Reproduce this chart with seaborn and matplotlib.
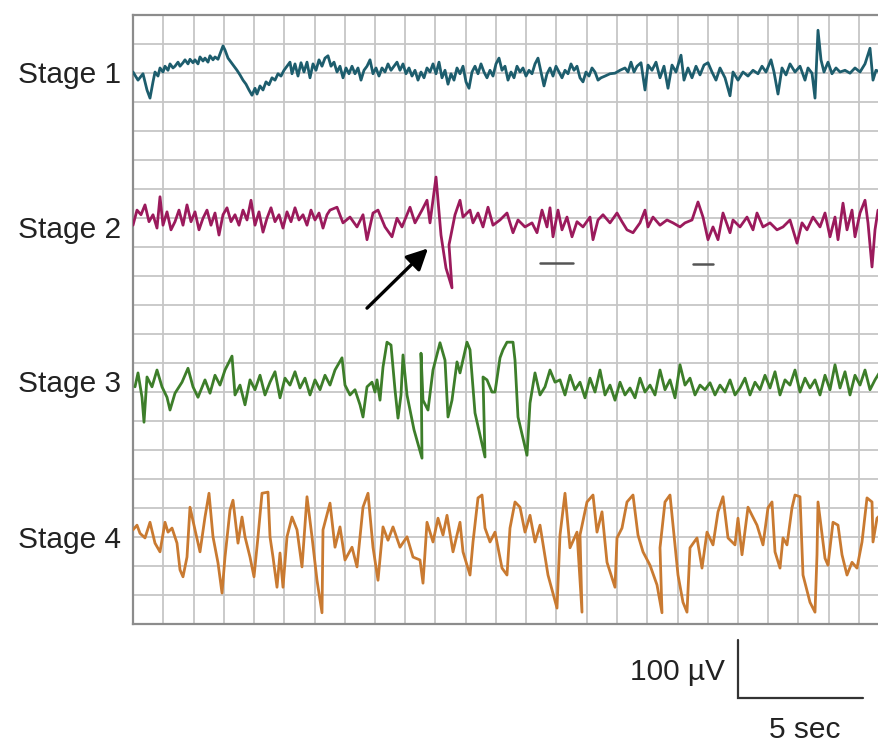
import numpy as np
import matplotlib
matplotlib.use("Agg")
import matplotlib.pyplot as plt
import seaborn as sns

# ---------------- data (time in s, amplitude in µV relative to trace baseline) -------------
stage_labels = ["Stage 1", "Stage 2", "Stage 3", "Stage 4"]

stage1_t = [0.00, 0.20, 0.40, 0.56, 0.68, 0.80, 0.88, 1.00, 1.08, 1.20, 1.28, 1.40, 1.48, 1.60, 1.68, 1.80,
            1.88, 2.00, 2.08, 2.20, 2.28, 2.40, 2.48, 2.60, 2.68, 2.80, 2.88, 3.00, 3.08, 3.20, 3.28, 3.40,
            3.48, 3.60, 3.68, 3.80, 3.92, 4.04, 4.16, 4.28, 4.40, 4.52, 4.64, 4.76, 4.88, 4.96, 5.08, 5.20,
            5.32, 5.44, 5.56, 5.68, 5.80, 5.92, 6.04, 6.16, 6.28, 6.36, 6.48, 6.60, 6.72, 6.84, 6.96, 7.08,
            7.20, 7.32, 7.44, 7.56, 7.68, 7.80, 7.92, 8.04, 8.16, 8.28, 8.40, 8.52, 8.64, 8.76, 8.88, 9.00,
            9.12, 9.24, 9.36, 9.48, 9.60, 9.72, 9.84, 9.96, 10.08, 10.20, 10.32, 10.44, 10.56, 10.68, 10.80,
            10.92, 11.04, 11.16, 11.28, 11.40, 11.52, 11.64, 11.76, 11.88, 12.00, 12.12, 12.24, 12.36, 12.48,
            12.60, 12.72, 12.84, 12.96, 13.08, 13.20, 13.32, 13.44, 13.56, 13.68, 13.80, 13.92, 14.04, 14.16,
            14.28, 14.40, 14.52, 14.64, 14.76, 14.88, 15.00, 15.12, 15.24, 15.36, 15.48, 15.60, 15.72, 15.84,
            15.96, 16.08, 16.20, 16.32, 16.44, 16.56, 16.68, 16.80, 16.92, 17.04, 17.16, 17.28, 17.40, 17.52,
            17.64, 17.76, 17.88, 18.00, 18.12, 18.24, 18.36, 18.48, 18.60, 18.72, 18.88, 19.08, 19.28, 19.48,
            19.68, 19.80, 19.92, 20.04, 20.16, 20.32, 20.48, 20.60, 20.76, 20.92, 21.08, 21.24, 21.40, 21.56,
            21.72, 21.92, 22.04, 22.20, 22.36, 22.52, 22.68, 22.84, 23.00, 23.16, 23.32, 23.48, 23.68, 23.88,
            24.00, 24.20, 24.40, 24.60, 24.80, 25.00, 25.16, 25.32, 25.52, 25.64, 25.80, 25.96, 26.12, 26.28,
            26.48, 26.68, 26.88, 27.00, 27.16, 27.28, 27.40, 27.52, 27.64, 27.80, 27.96, 28.12, 28.28, 28.48,
            28.68, 28.88, 29.08, 29.28, 29.48, 29.60, 29.72, 29.88]
stage1_uv = [0, -14, -3, -31, -45, -17, 0, -7, 7, 0, 10, 3, 14, 7, 10, 17,
             10, 16, 21, 14, 22, 16, 21, 14, 26, 19, 24, 17, 28, 21, 26, 22,
             31, 45, 38, 24, 17, 10, 3, -5, -14, -21, -31, -40, -28, -38, -24, -31,
             -17, -22, -10, -14, -3, -7, 3, 10, 17, -3, 14, -7, 16, 0, 17, -10,
             14, 3, 21, 10, 24, 28, 10, 17, 0, 10, -10, 7, -3, 10, -3, 7,
             -14, 3, 10, 21, -3, 7, -7, 7, 0, 14, 3, 10, 17, 3, 14,
             -3, 7, -7, 3, -14, 0, -10, 7, 0, 14, -3, 17, -10, 3,
             -21, -3, -14, 7, -3, 10, -17, -28, 0, 10, -3, 14, 0, -10,
             3, -7, 14, 24, 3, 10, -14, 0, -10, 10, 0, 7, -7, 3,
             -3, 14, 24, 0, -24, -3, 7, -7, 10, 0, -10, 3, -3, 14,
             3, 10, -10, -17, 0, -7, 7, 0, -14, -10, -7, -3, -2, 3,
             7, 0, 17, 0, 10, 16, -31, 12, 3, 17, -10, 10, -28, 12,
             0, 29, -14, 7, -10, 10, -5, 12, 16, 0, -14, 7, -10, -41,
             0, -14, 0, -7, 3, -3, 10, 0, 21, 0, -38, 7, -5, 14,
             0, 10, -14, 7, -2, -45, 72, 21, 0, 17, -3, 7, 0, 3,
             -2, 7, 0, 14, 41, -14, 3, 0]

stage2_t = [0.00, 0.16, 0.32, 0.48, 0.64, 0.80, 0.96, 1.08, 1.20, 1.36, 1.52, 1.68, 1.84, 2.00, 2.16, 2.32,
            2.48, 2.64, 2.80, 2.96, 3.12, 3.28, 3.44, 3.60, 3.76, 3.92, 4.08, 4.24, 4.40, 4.56, 4.72, 4.88,
            5.04, 5.20, 5.36, 5.52, 5.68, 5.84, 6.00, 6.16, 6.32, 6.48, 6.64, 6.80, 6.96, 7.12, 7.28, 7.44,
            7.60, 7.76, 7.88, 8.16, 8.40, 8.68, 8.96, 9.20, 9.36, 9.60, 9.80, 10.08, 10.36, 10.56, 10.76,
            11.08, 11.28, 11.56, 11.76, 11.88, 12.12, 12.32, 12.52, 12.76, 12.64, 12.88, 13.08, 13.20, 13.48,
            13.60, 13.80, 14.00, 14.20, 14.40, 14.68, 14.96, 15.20, 15.40, 15.68, 15.96, 16.16, 16.36, 16.56,
            16.68, 16.80, 17.00, 17.16, 17.36, 17.56, 17.76, 18.00, 18.28, 18.40, 18.60, 18.80, 19.08, 19.36,
            19.56, 19.76, 20.00, 20.28, 20.48, 20.60, 20.80, 21.08, 21.36, 21.60, 21.88, 22.08, 22.36, 22.60,
            22.80, 23.00, 23.20, 23.40, 23.60, 23.88, 24.00, 24.28, 24.56, 24.80, 24.96, 25.20, 25.48, 25.76,
            26.00, 26.28, 26.56, 26.76, 26.96, 27.20, 27.48, 27.68, 27.88, 28.08, 28.20, 28.40, 28.56, 28.76,
            28.88, 29.08, 29.28, 29.40, 29.56, 29.68, 29.80]
stage2_uv = [-9, 17, 9, 26, -3, 9, -14, 40, -9, 14, -17, -3, 17, -9, 26, -3,
             14, -17, 3, 17, -9, 12, -26, 9, 21, -3, 9, -9, 17, 0, 34, -9,
             14, -21, 3, 21, -3, 9, -14, 14, -3, 21, 0, 9, -9, 17, 0, 12,
             -14, 9, 17, 22, -5, 5, -12, 9, -34, 12, 17, -12, -29, 3, -12,
             22, -5, 17, 34, -5, 74, -26, -83, -117, -43, 9, 34, 5, 17,
             -5, 12, -12, 22, -9, 0, 12, -22, 0, -12, -5, -22, 17, -12,
             21, -29, 17, -17, 5, -29, -3, -12, 5, -34, 0, 9, -5, 12,
             -3, -17, -22, -5, 17, -12, 5, -9, 0, -5, -12, -5, 0, 31,
             5, -34, -12, -34, 12, -22, 0, -12, 5, -17, 12, -12, -5, -17,
             -12, 0, -40, -5, -17, 5, -12, 12, -29, 5, -34, 29, -17, 17,
             -29, 12, 34, -5, -81, -17, 17]

stage3_t = [0.08, 0.20, 0.36, 0.44, 0.56, 0.76, 0.96, 1.16, 1.36, 1.48, 1.68, 1.96, 2.20, 2.40, 2.60, 2.88,
            3.08, 3.28, 3.48, 3.68, 3.96, 4.08, 4.28, 4.48, 4.68, 4.88, 5.08, 5.28, 5.48, 5.68, 5.88, 6.08,
            6.28, 6.48, 6.68, 6.88, 7.08, 7.28, 7.48, 7.68, 7.88, 8.08, 8.36, 8.48, 8.68, 8.88, 9.08, 9.20,
            9.36, 9.56, 9.68, 9.76, 9.88, 10.00, 10.16, 10.32, 10.48, 10.60, 10.72, 10.80, 10.96, 11.24, 11.56,
            11.52, 11.60, 11.80, 12.00, 12.28, 12.48, 12.60, 12.76, 12.96, 13.08, 13.36, 13.48, 13.68, 14.08,
            14.00, 14.16, 14.36, 14.48, 14.68, 14.80, 14.96, 15.20, 15.28, 15.40, 15.76, 15.88, 16.08, 16.28,
            16.48, 16.68, 16.88, 17.08, 17.28, 17.48, 17.68, 17.88, 18.08, 18.28, 18.48, 18.68, 18.88, 19.08,
            19.28, 19.48, 19.68, 19.88, 20.08, 20.28, 20.48, 20.68, 20.88, 21.08, 21.28, 21.48, 21.68, 21.88,
            22.08, 22.28, 22.48, 22.68, 22.88, 23.08, 23.28, 23.48, 23.68, 23.88, 24.08, 24.28, 24.48, 24.68,
            24.88, 25.08, 25.28, 25.48, 25.68, 25.88, 26.08, 26.28, 26.48, 26.68, 26.88, 27.08, 27.28, 27.48,
            27.68, 27.88, 28.08, 28.28, 28.48, 28.68, 28.88, 29.08, 29.28, 29.48, 29.68, 29.88]
stage3_uv = [2, 26, -16, -59, 19, 2, 31, 2, -16, -38, -9, 10, 34, 2, -16, 14,
             -9, 22, 5, 31, 55, -12, 5, -29, 14, -3, 22, -12, 10, 28, -17, 17,
             5, 28, 0, 17, -12, 14, -3, 22, 5, 31, 52, 5, -12, -3, -29, -50,
             2, 10, -7, 14, -21, 36, 79, 74, -3, -52, -12, 57, -12, -72, -121,
             60, -21, -38, 31, 78, 48, -50, -21, 45, 26, 79, 66, -43, -119,
             19, 14, -7, -7, 52, 66, 79, 79, 48, -50, -116, -26, 26, -12,
             2, 31, 10, 14, -12, 22, -3, 10, -17, 17, -7, 31, -12, 5,
             -21, 10, -12, 0, -17, 17, -7, 5, -12, 31, -3, 14, -17, 40,
             5, 17, -12, 5, -3, 9, -12, 5, -7, 14, -12, 0, 17, -12,
             10, -3, 22, 0, 28, -12, 14, 5, 31, -7, 17, 0, 14, -12,
             22, -3, 40, 0, 28, -12, 22, 5, 31, -3, 14, 28]

stage4_t = [0.00, 0.16, 0.28, 0.48, 0.68, 0.88, 1.08, 1.28, 1.40, 1.56, 1.76, 1.88, 2.00, 2.16, 2.28, 2.48,
            2.68, 2.88, 3.04, 3.20, 3.40, 3.56, 3.68, 3.88, 4.00, 4.20, 4.36, 4.48, 4.68, 4.84, 5.00, 5.16,
            5.40, 5.48, 5.60, 5.76, 5.88, 6.00, 6.16, 6.36, 6.56, 6.76, 6.96, 7.16, 7.36, 7.56, 7.60, 7.88,
            8.08, 8.28, 8.48, 8.76, 8.96, 9.20, 9.40, 9.60, 9.80, 10.00, 10.20, 10.40, 10.68, 10.96, 11.20,
            11.48, 11.60, 11.76, 12.00, 12.20, 12.40, 12.56, 12.80, 13.08, 13.20, 13.48, 13.60, 13.80, 13.96,
            14.08, 14.28, 14.48, 14.76, 14.96, 15.08, 15.28, 15.48, 15.68, 15.88, 16.08, 16.28, 16.60, 16.96,
            17.08, 17.28, 17.48, 17.76, 17.96, 17.88, 18.16, 18.40, 18.56, 18.76, 18.96, 19.28, 19.36, 19.56,
            19.76, 20.00, 20.20, 20.40, 20.68, 20.96, 21.16, 21.08, 21.28, 21.48, 21.60, 21.80, 22.00, 22.16,
            22.28, 22.56, 22.76, 22.96, 23.20, 23.40, 23.60, 23.80, 24.08, 24.20, 24.36, 24.60, 24.76, 24.96,
            25.20, 25.40, 25.56, 25.68, 25.88, 26.00, 26.16, 26.36, 26.48, 26.68, 26.80, 27.08, 27.28, 27.36,
            27.40, 27.48, 27.68, 27.80, 28.00, 28.20, 28.36, 28.56, 28.76, 28.96, 29.16, 29.36, 29.56, 29.60,
            29.76, 29.88]
stage4_uv = [9, 17, 3, -5, 22, -14, -29, 22, 5, 12, -14, -60, -72, -38, 48, 9,
             -29, 31, 72, -3, -48, -100, -38, 43, 60, -14, 31, -3, -38, -72, -3, 72,
             74, -3, -38, -90, -31, -90, -3, 31, 9, -55, 66, -3, -78, -134, 9, 55,
             -21, 14, -43, -21, -55, 48, 72, -21, -78, 14, -9, 14, -21, -3, -38,
             -43, -83, 22, -12, 29, 0, 34, -29, 22, -29, -69, -12, 64, 69,
             12, -12, 5, -57, -69, 12, 57, 48, 5, 34, -12, 17, -69, -126,
             0, 72, -22, 5, -133, 0, 57, 69, 5, 40, -47, -90, -5, 12,
             57, 69, 0, -29, -52, -86, -134, -22, 57, 69, 17, -69, -116, -133,
             -22, -5, -57, 5, -17, 40, 66, -5, -17, 29, -34, 48, 34, 17,
             -17, 47, 57, -29, -57, -5, -17, 47, 69, 66, -69, -116, -133, -34,
             57, 29, -40, -52, 22, 17, -34, -69, -47, -57, -12, 64, 57, -12,
             29, 34]

# annotation marks under stage 2 (start s, end s, level µV relative to stage-2 baseline)
bar_marks = [(16.28, 17.60, -74), (22.40, 23.20, -76)]
arrow_tail = (9.36, -152)   # relative to stage-2 baseline
arrow_tip = (11.80, -49)

scale_uv = 100
scale_sec = 5
scale_labels = ["100 \u00b5V", "5 sec"]

# ---------------- layout / style -------------
W, H = 879, 745
offsets = [951.7, 696.6, 406.9, 153.4]
colors = ["#1d5d6d", "#9b1a5c", "#3d7e2a", "#c97a31"]
y_max = 1050
x_max = 746 / 25.0
grid_dx = 1.21
grid_dy = 50

sns.set_style("white")
plt.rcParams["font.family"] = ["Liberation Sans", "DejaVu Sans"]

fig = plt.figure(figsize=(W / 100, H / 100), dpi=100)
ax = fig.add_axes([133 / W, (H - 624) / H, 746 / W, 609 / H])
ax.set_xlim(0, x_max)
ax.set_ylim(0, y_max)

# grid
for k in range(1, 25):
    ax.axvline(k * grid_dx, color="#c6c6c6", lw=1.3, zorder=0)
for k in range(1, 21):
    ax.axhline(k * grid_dy, color="#c6c6c6", lw=1.3, zorder=0)
ax.set_xticks([])
ax.set_yticks([])
for side in ["left", "bottom", "top"]:
    ax.spines[side].set_color("#8c8c8c")
    ax.spines[side].set_linewidth(1.6)
ax.spines["right"].set_visible(False)

traces = [(stage1_t, stage1_uv), (stage2_t, stage2_uv), (stage3_t, stage3_uv), (stage4_t, stage4_uv)]
for (t, v), off, c in zip(traces, offsets, colors):
    sns.lineplot(x=np.array(t), y=np.array(v) + off, sort=False, estimator=None,
                 color=c, linewidth=2.0, ax=ax, zorder=3,
                 solid_joinstyle="round", solid_capstyle="round")

# stage labels
label_py = [75, 230, 384, 540]
for lab, py in zip(stage_labels, label_py):
    fig.text(121 / W, (H - py) / H, lab, ha="right", va="center", fontsize=21.5, color="#222222")

# marks below stage 2
for s, e, lvl in bar_marks:
    ax.plot([s, e], [offsets[1] + lvl, offsets[1] + lvl], color="#555555", lw=1.8, zorder=3)

ax.annotate("", xy=(arrow_tip[0], offsets[1] + arrow_tip[1]),
            xytext=(arrow_tail[0], offsets[1] + arrow_tail[1]),
            arrowprops=dict(arrowstyle="-|>", color="black", lw=2.4, mutation_scale=32,
                            shrinkA=0, shrinkB=0), zorder=4)

# scale bar
sx0 = (738 - 133) / 25.0
sy0 = -(698 - 624) * 50 / 29.0
ax.plot([sx0, sx0, sx0 + scale_sec], [sy0 + scale_uv, sy0, sy0], color="#333333", lw=1.6,
        clip_on=False, solid_joinstyle="miter")
fig.text(725 / W, (H - 672) / H, scale_labels[0], ha="right", va="center", fontsize=21.5, color="#222222")
fig.text(805 / W, (H - 730) / H, scale_labels[1], ha="center", va="center", fontsize=21.5, color="#222222")

fig.savefig("out.png", dpi=100)
